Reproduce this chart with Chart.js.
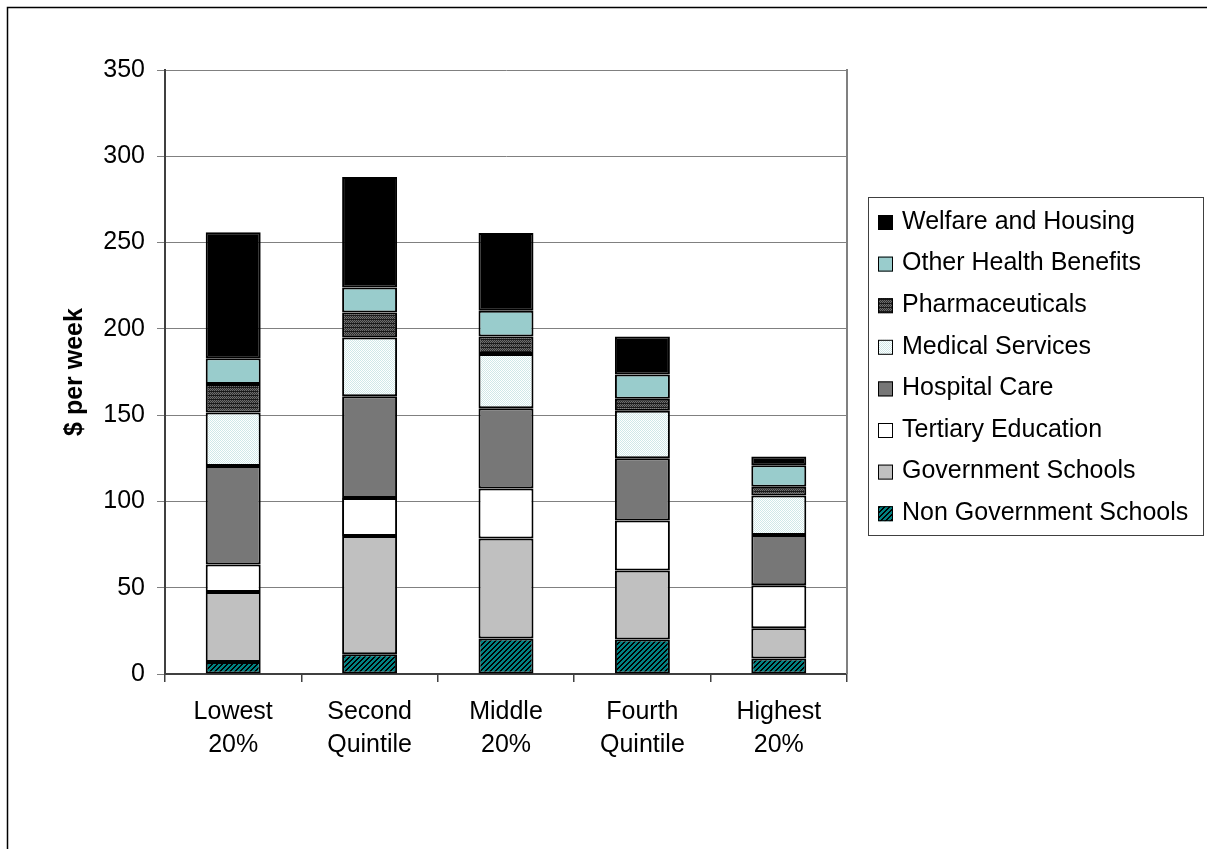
<!DOCTYPE html>
<html>
<head>
<meta charset="utf-8">
<script src="https://cdn.jsdelivr.net/npm/chart.js@4/dist/chart.umd.min.js"></script>
<style>
  body { margin: 0; background: #fff; }
  canvas { display: block; }
</style>
</head>
<body>
<canvas id="benefitsChart" width="1207" height="849"></canvas>
<script>
const quintiles = [['Lowest', '20%'], ['Second', 'Quintile'], ['Middle', '20%'], ['Fourth', 'Quintile'], ['Highest', '20%']];
const yTicks = [0, 50, 100, 150, 200, 250, 300, 350];

// $ per week, bottom of the stack first
const nonGovSchools = [7, 11.5, 20.5, 20, 9];
const govSchools = [40.5, 68.5, 58, 40, 17.5];
const tertiary = [16, 22, 29, 29, 25];
const hospital = [57, 59, 46.5, 36, 29];
const medical = [31, 34, 31.5, 27.5, 23];
const pharma = [16.5, 14.5, 10, 7, 5];
const otherHealth = [15, 14.5, 15, 14, 12.5];
const welfare = [73, 64, 45, 22, 5];

const FONT = 'Liberation Sans, Arial, sans-serif';

const ctx = document.getElementById('benefitsChart').getContext('2d');

// small pixel tiles for the hatched / textured fills
function pixelPattern(size, colorAt) {
    const c = document.createElement('canvas');
    c.width = size;
    c.height = size;
    const g = c.getContext('2d');
    for (let y = 0; y < size; y++) {
        for (let x = 0; x < size; x++) {
            g.fillStyle = colorAt(x, y);
            g.fillRect(x, y, 1, 1);
        }
    }
    return ctx.createPattern(c, 'repeat');
}

const hatchTeal = pixelPattern(5, (x, y) => ((x + y) % 5 < 2 ? '#000000' : '#008080'));
const checkDark = pixelPattern(4, (x, y) => {
    if (y % 4 === 3) return '#1a1a1a';
    return (x + y) % 2 === 0 ? '#6e6e6e' : '#2e2e2e';
});
const dotsLight = pixelPattern(4, (x, y) => ((x + y) % 2 === 0 ? '#d0e8e8' : '#ffffff'));

function series(label, data, fill) {
    return {
        label: label,
        data: data,
        backgroundColor: fill,
        borderColor: '#000000',
        borderWidth: 2,
        borderSkipped: false,
        barPercentage: 0.403,
        categoryPercentage: 1.0
    };
}

// outer frame and the plot border on the right
const framePlugin = {
    id: 'frame',
    beforeDraw(chart) {
        const c = chart.ctx;
        c.save();
        c.fillStyle = '#ffffff';
        c.fillRect(0, 0, chart.width, chart.height);
        c.strokeStyle = '#000000';
        c.lineWidth = 1.5;
        c.strokeRect(7.5, 7.5, chart.width + 20, chart.height + 20);
        c.restore();
    },
    afterDatasetsDraw(chart) {
        const a = chart.chartArea;
        const c = chart.ctx;
        c.save();
        c.strokeStyle = '#808080';
        c.lineWidth = 2;
        c.beginPath();
        c.moveTo(a.right, a.top - 1);
        c.lineTo(a.right, a.bottom);
        c.stroke();
        c.restore();
    }
};

// boxed legend, top series listed first
const boxLegend = {
    id: 'boxLegend',
    afterDraw(chart) {
        const c = chart.ctx;
        const sets = chart.data.datasets.slice().reverse();
        const left = 868.5, top = 197.5, w = 335, h = 338;
        c.save();
        c.strokeStyle = '#404040';
        c.lineWidth = 1;
        c.strokeRect(left, top, w, h);
        c.font = '25px ' + FONT;
        c.textBaseline = 'middle';
        c.fillStyle = '#000000';
        sets.forEach((ds, i) => {
            const cy = 222 + i * 41.6;
            c.fillStyle = ds.backgroundColor;
            c.fillRect(878, cy - 7, 15, 15);
            c.strokeStyle = '#000000';
            c.lineWidth = 1;
            c.strokeRect(878.5, cy - 6.5, 14, 14);
            c.fillStyle = '#000000';
            c.fillText(ds.label, 902, cy);
        });
        c.restore();
    }
};

const benefitsChart = new Chart(ctx, {
    type: 'bar',
    data: {
        labels: quintiles,
        datasets: [
            series('Non Government Schools', nonGovSchools, hatchTeal),
            series('Government Schools', govSchools, '#c0c0c0'),
            series('Tertiary Education', tertiary, '#ffffff'),
            series('Hospital Care', hospital, '#777777'),
            series('Medical Services', medical, dotsLight),
            series('Pharmaceuticals', pharma, checkDark),
            series('Other Health Benefits', otherHealth, '#99cccc'),
            series('Welfare and Housing', welfare, '#000000')
        ]
    },
    options: {
        responsive: false,
        animation: false,
        layout: {
            padding: { left: 0, top: 70, right: 360, bottom: 0 }
        },
        plugins: {
            legend: { display: false },
            tooltip: { enabled: false }
        },
        scales: {
            x: {
                stacked: true,
                grid: {
                    display: true,
                    offset: true,
                    drawOnChartArea: false,
                    tickLength: 8,
                    color: '#404040',
                    lineWidth: 1.5
                },
                border: { color: '#404040', width: 2 },
                ticks: {
                    color: '#000000',
                    padding: 14,
                    font: { family: FONT, size: 25, lineHeight: 1.3 }
                },
                afterFit(scale) {
                    scale.height = 175;
                }
            },
            y: {
                stacked: true,
                min: 0,
                max: 350,
                afterBuildTicks(scale) {
                    scale.ticks = yTicks.map(v => ({ value: v }));
                },
                grid: {
                    color: '#808080',
                    lineWidth: 1,
                    tickLength: 8
                },
                border: { color: '#404040', width: 2 },
                ticks: {
                    color: '#000000',
                    padding: 12,
                    font: { family: FONT, size: 25 }
                },
                title: {
                    display: true,
                    text: '$ per week',
                    color: '#000000',
                    padding: { top: 60, bottom: 0 },
                    font: { family: FONT, size: 25, weight: 'bold', lineHeight: 1.2 }
                },
                afterFit(scale) {
                    scale.width = 165;
                }
            }
        }
    },
    plugins: [framePlugin, boxLegend]
});
</script>
</body>
</html>
